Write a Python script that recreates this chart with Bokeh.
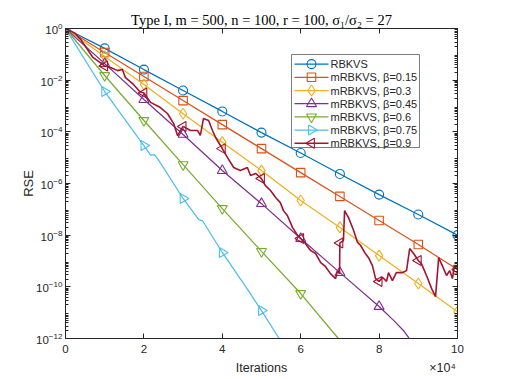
import numpy as np
from bokeh.plotting import figure
from bokeh.models import (FixedTicker, LogAxis, LinearAxis, Range1d, LinearScale,
                          CustomJSTickFormatter, LogTickFormatter)
from bokeh.core.properties import value
from bokeh.embed import file_html
from bokeh.resources import INLINE

# ---------------- data (RSE given as log10 exponents) ----------------
it_markers = [0, 10000, 20000, 30000, 40000, 50000, 60000, 70000, 80000, 90000, 100000]

rbkvs_x = it_markers
rbkvs_log = [0, -0.77, -1.59, -2.40, -3.21, -4.03, -4.82, -5.63, -6.43, -7.20, -8.00]

b015_x = it_markers
b015_log = [0, -0.93, -1.86, -2.79, -3.72, -4.65, -5.58, -6.50, -7.43, -8.36, -9.33]

b030_x = it_markers
b030_log = [0, -1.08, -2.17, -3.30, -4.40, -5.50, -6.66, -7.70, -8.79, -9.87, -10.96]

b045_x = [0, 10000, 20000, 30000, 40000, 50000, 60000, 70000, 80000, 83700, 86200, 87500, 88500]
b045_log = [0, -1.36, -2.75, -4.10, -5.50, -6.78, -8.13, -9.45, -10.76, -11.30, -11.69, -11.96, -12.30]

b060_x = [0, 10000, 20000, 30000, 40000, 50000, 60000, 69600, 71000]
b060_log = [0, -1.82, -3.56, -5.27, -6.97, -8.63, -10.26, -12.00, -12.30]

b075_x = [0, 10000, 20000, 21700, 22700, 24000, 30000, 34000, 35000, 40000, 46000, 50000, 54500, 56000]
b075_log = [0, -2.44, -4.53, -4.90, -4.88, -5.15, -6.58, -7.40, -7.45, -8.67, -10.00, -10.92, -12.00, -12.40]

b090_x = [0, 2500, 4000, 7000, 10000, 11500, 13300, 14500, 15300, 17100, 19000, 20000,
          21700, 24200, 26000, 27600, 28600, 30000, 31900, 33700, 34400, 35200, 36500, 37500,
          38300, 40000, 41300, 42900, 44600, 46400, 47200, 48500, 50000, 51000, 52300, 53600,
          54800, 55600, 56600, 57900, 59200, 60000, 61200, 62500, 63800, 65100, 66300, 67600,
          68900, 69400, 69900, 70000, 70900, 71200, 72200, 73500, 74500, 75300, 76300, 77300,
          78300, 79100, 80000, 80900, 81900, 82400, 83400, 84400, 86000, 87000, 87800, 88800,
          90000, 90800, 92300, 93400, 94400, 95200, 96200, 97200, 98000, 98700, 99200, 100000]
b090_log = [0, -0.19, -0.45, -1.12, -1.45, -1.51, -1.63, -1.59, -1.90, -2.13, -2.45, -2.50,
            -2.86, -3.06, -3.29, -3.68, -4.15, -3.79, -3.95, -3.95, -4.14, -3.48, -3.56, -3.95,
            -4.22, -4.65, -4.99, -5.38, -5.50, -5.38, -5.69, -5.61, -5.81, -6.08, -6.27, -6.54,
            -6.74, -7.05, -7.24, -7.70, -8.01, -8.13, -8.32, -8.59, -8.71, -9.06, -9.21, -9.49,
            -9.68, -9.37, -9.50, -8.30, -8.21, -7.05, -7.32, -7.82, -8.28, -8.40, -8.67, -8.87,
            -9.18, -9.68, -9.79, -9.64, -9.79, -9.45, -9.76, -9.45, -9.45, -9.37, -8.52, -8.71,
            -8.98, -9.10, -9.64, -10.07, -10.38, -8.87, -9.21, -9.56, -9.37, -9.68, -9.21, -9.33]

series = [
    ("RBKVS", rbkvs_x, rbkvs_log, "#0072BD", "circle", 0.0, 9),
    ("mRBKVS, β=0.15", b015_x, b015_log, "#D95319", "square", 0.0, 8.5),
    ("mRBKVS, β=0.3", b030_x, b030_log, "#EDB120", "diamond", 0.0, 11),
    ("mRBKVS, β=0.45", b045_x, b045_log, "#7E2F8E", "triangle", 0.0, 10),
    ("mRBKVS, β=0.6", b060_x, b060_log, "#77AC30", "inverted_triangle", 0.0, 10),
    ("mRBKVS, β=0.75", b075_x, b075_log, "#4DBEEE", "triangle", -np.pi / 2, 10),
    ("mRBKVS, β=0.9", b090_x, b090_log, "#A2142F", "triangle", np.pi / 2, 10),
]

x_ticks = [0, 20000, 40000, 60000, 80000, 100000]
y_ticks = [1e-12, 1e-10, 1e-8, 1e-6, 1e-4, 1e-2, 1e0]
title_text = "Type I, m = 500, n = 100, r = 100, σ₁/σ₂ = 27"
x_label = "Iterations"
x_scale_note = "×10⁴"

AX = "#262626"
FONT = "Liberation Sans"
FRAME_W, FRAME_H = 392, 310

p = figure(width=505, height=379, y_axis_type="log",
           x_range=(0, 100000), y_range=(1e-12, 1),
           output_backend="svg", toolbar_location=None,
           min_border_left=65, min_border_right=48,
           min_border_top=28, min_border_bottom=41)
p.xgrid.visible = False
p.ygrid.visible = False
p.outline_line_color = AX

p.title.text = title_text
p.title.text_font = "Liberation Serif"
p.title.text_font_style = "normal"
p.title.text_font_size = "14.5px"
p.title.text_color = "black"
p.title.align = "center"
p.title.standoff = 2

for name, xs, logs, col, mk, ang, sz in series:
    xs = np.array(xs, dtype=float)
    ys = 10.0 ** np.array(logs, dtype=float)
    lw = 1.6 if "0.9" in name else 1.25
    p.line(xs, ys, line_color=col, line_width=lw)
    sel = (xs % 10000 == 0)
    p.scatter(xs[sel], ys[sel], marker=mk, angle=ang, size=sz,
              fill_color=None, line_color=col, line_width=1.1)

# ---------------- legend (drawn in frame-pixel coordinates) ----------------
p.extra_x_ranges["lx"] = Range1d(0, FRAME_W)
p.extra_y_ranges["ly"] = Range1d(0, FRAME_H)
p.extra_x_scales["lx"] = LinearScale()
p.extra_y_scales["ly"] = LinearScale()
LG_L, LG_R, LG_B, LG_T = 226, 354, 191, 284
row_h = 13.2
p.quad(left=[LG_L], right=[LG_R], bottom=[LG_B], top=[LG_T], fill_color="white",
       line_color=AX, line_width=0.6, x_range_name="lx", y_range_name="ly")
for i, (name, xs, logs, col, mk, ang, sz) in enumerate(series):
    yc = LG_T - 3 - row_h / 2 - i * row_h
    p.line([LG_L + 3, LG_L + 37], [yc, yc], line_color=col,
           line_width=1.6 if "0.9" in name else 1.25, x_range_name="lx", y_range_name="ly")
    p.scatter([LG_L + 20], [yc], marker=mk, angle=ang, size=sz, fill_color=None,
              line_color=col, line_width=1.1, x_range_name="lx", y_range_name="ly")
    p.text([LG_L + 39], [yc], text=[name], text_font=value(FONT), text_font_size="11px",
           text_color=AX, text_baseline="middle", text_align="left",
           x_range_name="lx", y_range_name="ly")

minor = [m * 10.0 ** e for e in range(-12, 0) for m in range(2, 10)]

def style(ax, labels=True):
    ax.axis_line_color = AX
    ax.major_tick_line_color = AX
    ax.minor_tick_line_color = AX
    ax.major_tick_in = 5
    ax.major_tick_out = 0
    ax.minor_tick_in = 3
    ax.minor_tick_out = 0
    ax.major_label_text_color = AX
    ax.major_label_text_font = FONT
    ax.major_label_text_font_size = "11.5px" if labels else "0px"
    ax.major_label_standoff = 4 if labels else 0

xa = p.xaxis[0]
xa.ticker = FixedTicker(ticks=x_ticks)
xa.formatter = CustomJSTickFormatter(code="return (tick/1e4).toFixed(0)")
style(xa)
xa.minor_tick_line_color = None
xa.major_label_standoff = 6

# second bottom axis carrying "Iterations" and the x10^4 note at their positions
xa2 = LinearAxis(ticker=FixedTicker(ticks=[50000, 96200]),
                 formatter=CustomJSTickFormatter(
                     args=dict(a=x_label, b=x_scale_note),
                     code="return tick < 90000 ? a : b"))
xa2.axis_line_color = None
xa2.major_tick_line_color = None
xa2.minor_tick_line_color = None
xa2.major_tick_in = 0
xa2.major_tick_out = 0
xa2.major_label_standoff = 5
xa2.major_label_text_font = FONT
xa2.major_label_text_font_size = "12.5px"
xa2.major_label_text_color = AX
p.add_layout(xa2, "below")

ya = p.yaxis[0]
ya.ticker = FixedTicker(ticks=y_ticks, minor_ticks=minor)
ya.formatter = LogTickFormatter()
style(ya)
ya.major_label_standoff = 3
ya.axis_label = "RSE"
ya.axis_label_text_font = FONT
ya.axis_label_text_font_style = "normal"
ya.axis_label_text_font_size = "13px"
ya.axis_label_text_color = AX
ya.axis_label_standoff = -3

top = LinearAxis(ticker=FixedTicker(ticks=x_ticks))
style(top, labels=False)
top.minor_tick_line_color = None
top.formatter = CustomJSTickFormatter(code="return ''")
p.add_layout(top, "above")

right = LogAxis(ticker=FixedTicker(ticks=y_ticks, minor_ticks=minor))
style(right, labels=False)
right.formatter = CustomJSTickFormatter(code="return ''")
p.add_layout(right, "right")

open("out.html", "w").write(file_html(p, INLINE))
